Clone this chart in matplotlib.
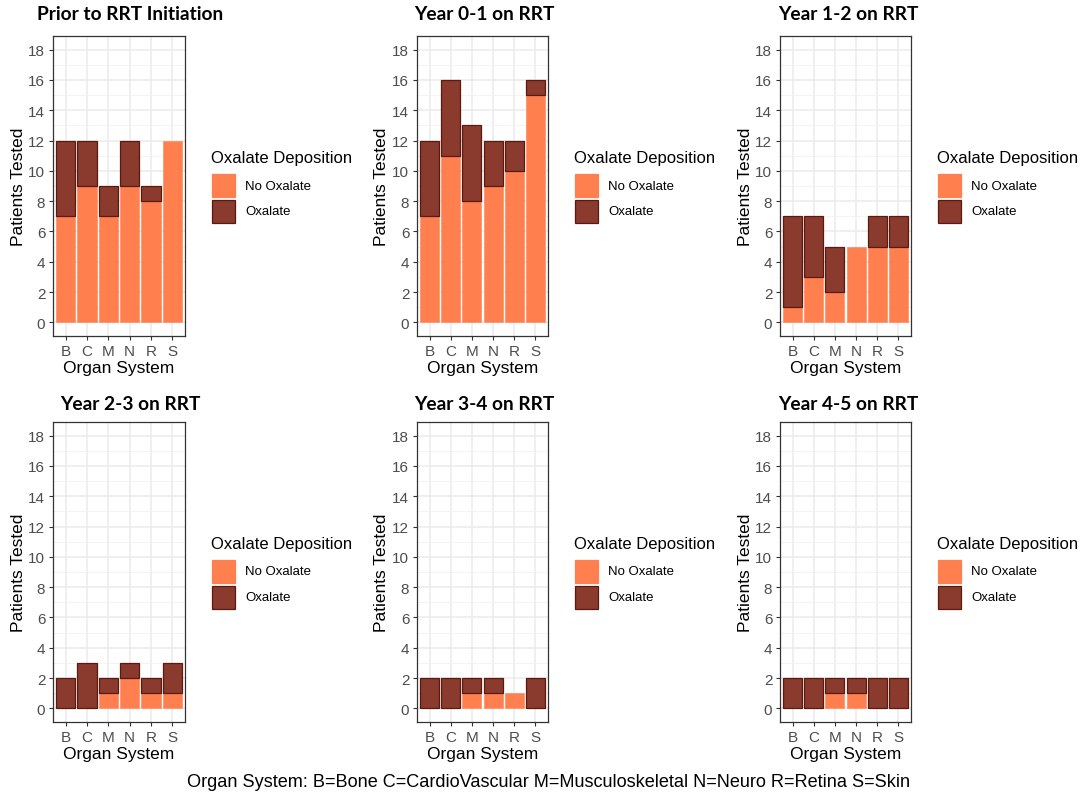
import matplotlib
matplotlib.use("Agg")
import matplotlib.pyplot as plt
from matplotlib.patches import Rectangle
import numpy as np

categories = ["B", "C", "M", "N", "R", "S"]
titles = ["Prior to RRT Initiation", "Year 0-1 on RRT", "Year 1-2 on RRT",
          "Year 2-3 on RRT", "Year 3-4 on RRT", "Year 4-5 on RRT"]
no_oxalate = [
    [7, 9, 7, 9, 8, 12],
    [7, 11, 8, 9, 10, 15],
    [1, 3, 2, 5, 5, 5],
    [0, 0, 1, 2, 1, 1],
    [0, 0, 1, 1, 1, 0],
    [0, 0, 1, 1, 0, 0],
]
oxalate = [
    [5, 3, 2, 3, 1, 0],
    [5, 5, 5, 3, 2, 1],
    [6, 4, 3, 0, 2, 2],
    [2, 3, 1, 1, 1, 2],
    [2, 2, 1, 1, 0, 2],
    [2, 2, 1, 1, 2, 2],
]
yticks = [0, 2, 4, 6, 8, 10, 12, 14, 16, 18]
legend_labels = ["No Oxalate", "Oxalate"]
legend_title = "Oxalate Deposition"
xlabel = "Organ System"
ylabel = "Patients Tested"
caption = "Organ System: B=Bone C=CardioVascular M=Musculoskeletal N=Neuro R=Retina S=Skin"

C_NO = "#FF7F4F"
C_OX = "#8B3A2E"
C_OX_EDGE = "#5A1A10"

W, H = 1084, 803
fig = plt.figure(figsize=(W / 100, H / 100), dpi=100)
fig.patch.set_facecolor("white")

def fx(x):
    return x / W

def fy(y):
    return 1 - y / H

col_left = [53, 417, 780]
col_right = [185, 548, 911]
row_top = [37, 423]
row_bot = [337, 723]
title_cx = [130, 484, 848]
title_y = [14, 405]
ylab_x = [18, 381, 744]

sans = ["Liberation Sans", "DejaVu Sans"]
bold_font = ["Lato", "Open Sans", "DejaVu Sans"]

x = np.arange(1, len(categories) + 1)
for i in range(6):
    r, c = divmod(i, 3)
    L, R = col_left[c], col_right[c]
    T, B = row_top[r], row_bot[r]
    ax = fig.add_axes([fx(L), fy(B), fx(R - L), (B - T) / H])
    ax.set_facecolor("white")
    ax.set_xlim(0.4, 6.6)
    ax.set_ylim(-0.9, 18.9)
    ax.set_yticks(yticks)
    ax.set_yticks(np.arange(1, 19, 2), minor=True)
    ax.set_xticks(x)
    ax.set_xticklabels(categories, family=sans, fontsize=11, color="#4D4D4D")
    ax.set_yticklabels([str(v) for v in yticks], family=sans, fontsize=11, color="#4D4D4D")
    ax.grid(True, which="major", color="#EBEBEB", linewidth=1.1, zorder=0)
    ax.grid(True, which="minor", axis="y", color="#F2F2F2", linewidth=0.6, zorder=0)
    ax.set_axisbelow(True)
    ax.tick_params(axis="both", which="major", length=3, width=0.8, color="#333333", pad=2.5)
    ax.tick_params(axis="both", which="minor", length=0)
    for s in ax.spines.values():
        s.set_color("#333333")
        s.set_linewidth(0.9)
    no = np.array(no_oxalate[i])
    ox = np.array(oxalate[i])
    ax.bar(x, no, width=0.9, color=C_NO, edgecolor=C_NO, linewidth=0.4, zorder=2)
    mask = ox > 0
    ax.bar(x[mask], ox[mask], bottom=no[mask], width=0.9, color=C_OX,
           edgecolor=C_OX_EDGE, linewidth=0.9, zorder=3)
    ax.set_xlabel(xlabel, family=sans, fontsize=12.5, labelpad=1.5)
    ax.set_ylabel("")
    fig.text(fx(ylab_x[c] + 1), fy((T + B) / 2), ylabel, rotation=90, ha="center",
             va="center", family=sans, fontsize=12.5)
    fig.text(fx(title_cx[c]), fy(title_y[r]), titles[i], ha="center", va="center",
             family=bold_font, fontweight="bold", fontsize=13.8)
    # legend
    lx = R + 26
    ty = T + 121
    fig.text(fx(lx), fy(ty), legend_title, ha="left", va="center", family=sans, fontsize=12)
    for k, (lab, col, ec) in enumerate(zip(legend_labels, [C_NO, C_OX], [C_NO, C_OX_EDGE])):
        ky = T + 138 + k * 26
        fig.patches.append(Rectangle((fx(lx + 1), fy(ky + 23)), 23 / W, 23 / H,
                                     transform=fig.transFigure, facecolor=col,
                                     edgecolor=ec, linewidth=0.9))
        fig.text(fx(lx + 34), fy(ky + 11.5), lab, ha="left", va="center",
                 family=sans, fontsize=9.5)

fig.text(fx(549), fy(783), caption, ha="center", va="center", family=sans, fontsize=13.1)

fig.savefig("out.png", dpi=100, facecolor="white")
